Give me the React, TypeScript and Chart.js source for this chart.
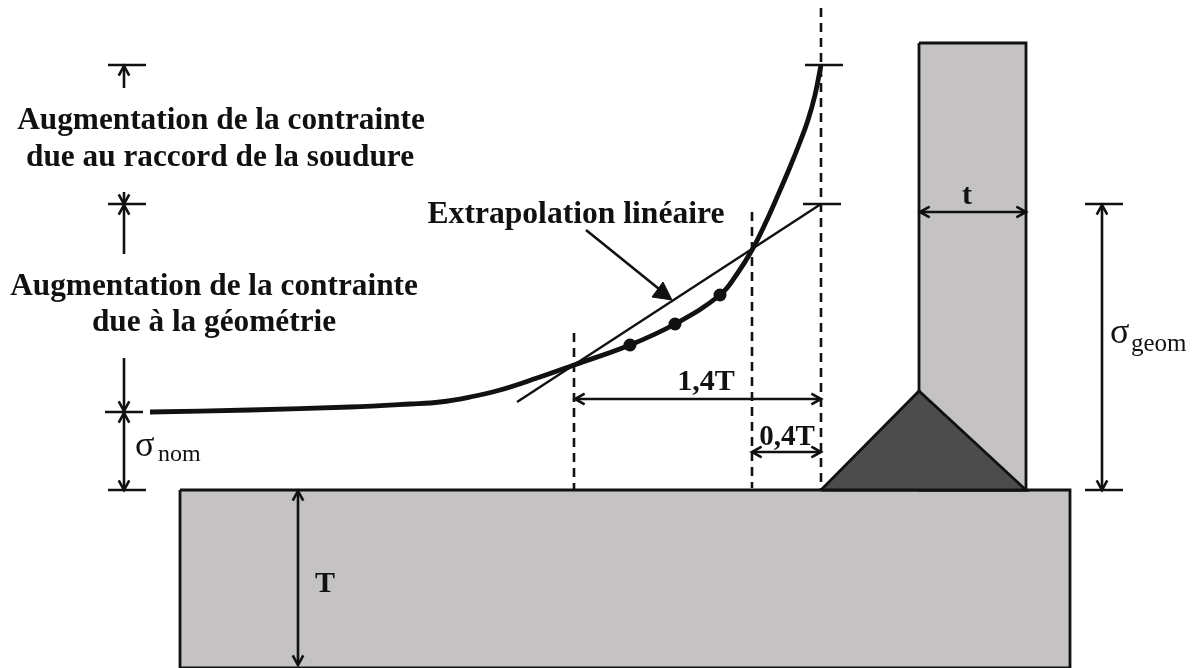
import React, { useEffect, useRef } from "react";
import { Chart, registerables } from "chart.js";

Chart.register(...registerables);

type P = { x: number; y: number };
type Pair = [number, number];

const W = 1197;
const H = 668;

// Stress curve and the three measurement points
const curveX = [150, 250, 350, 410, 440, 470, 500, 537, 574, 630, 675, 720, 737, 752, 765, 778, 790, 800, 808, 815, 821];
const curveY = [412, 410, 407, 404, 402, 397, 390, 378, 365, 345, 324, 295, 274, 250, 224, 195, 167, 142, 120, 95, 65];
const dotX = [630, 675, 720];
const dotY = [345, 324, 295];

// Extrapolation line
const extrapX = [517, 821];
const extrapY = [402, 204];

// Shapes
const plate: Pair[] = [[180, 490], [1070, 490], [1070, 668], [180, 668], [180, 490]];
const web: Pair[] = [[919, 43], [1026, 43], [1026, 490], [919, 490], [919, 43]];
const weld: Pair[] = [[821, 490], [919, 391], [1026, 490], [821, 490]];

// Dashed verticals: x, top, bottom
const dashes: [number, number, number][] = [
  [821, 8, 490],
  [752, 212, 488],
  [574, 333, 490],
];

// Level ticks: x1, x2, y
const ticks: [number, number, number][] = [
  [108, 146, 65],
  [108, 146, 204],
  [105, 143, 412],
  [108, 146, 490],
  [805, 843, 65],
  [803, 841, 204],
  [1085, 1123, 204],
  [1085, 1123, 490],
];

// Dimension arrows: x1, y1, x2, y2, head at start too
const arrows: [number, number, number, number, boolean][] = [
  [124, 88, 124, 66, false],
  [124, 192, 124, 204, false],
  [124, 254, 124, 205, false],
  [124, 358, 124, 411, false],
  [124, 413, 124, 490, true],
  [298, 491, 298, 665, true],
  [920, 212, 1026, 212, true],
  [1102, 205, 1102, 490, true],
  [575, 399, 821, 399, true],
  [752, 452, 821, 452, true],
];

// Leader arrow to the extrapolation line
const leaderX = [586, 664];
const leaderY = [230, 293];
const leaderHead: Pair[] = [[672, 300], [652, 297], [663, 282], [672, 300]];

// Texts
const labelText = [
  "Augmentation de la contrainte",
  "due au raccord de la soudure",
  "Augmentation de la contrainte",
  "due à la géométrie",
  "Extrapolation linéaire",
  "1,4T",
  "0,4T",
  "T",
  "t",
];
const labelX = [221, 220, 214, 214, 576, 706, 787, 325, 967];
const labelY = [121, 158, 287, 323, 215, 382, 438, 584, 196];
const labelSize = [31.3, 31.3, 31.3, 31.3, 31.6, 30, 29, 30, 30];

const sigmaText = ["σ", "σ"];
const sigmaX = [135, 1110];
const sigmaY = [447, 334];
const subText = ["nom", "geom"];
const subX = [158, 1131];
const subY = [455, 344];
const subSize = [24, 25];

const ink = "#111111";
const grey = "#c4c2c3";
const dark = "#4d4c4d";

function xy(xs: number[], ys: number[]): P[] {
  return xs.map((x, i) => ({ x, y: ys[i] }));
}
function pairs(list: Pair[]): P[] {
  return list.map(([x, y]) => ({ x, y }));
}
function head(tipX: number, tipY: number, fromX: number, fromY: number): P[] {
  const a = Math.atan2(fromY - tipY, fromX - tipX);
  const len = 11;
  const spread = 0.5;
  return [
    { x: tipX + len * Math.cos(a + spread), y: tipY + len * Math.sin(a + spread) },
    { x: tipX, y: tipY },
    { x: tipX + len * Math.cos(a - spread), y: tipY + len * Math.sin(a - spread) },
  ];
}

const base = { showLine: true, pointRadius: 0, pointHoverRadius: 0, tension: 0, fill: false };

function stroke(data: P[], width: number, order: number, extra: object = {}) {
  return { ...base, data, borderColor: ink, borderWidth: width, order, ...extra };
}

function buildDatasets() {
  const ds: any[] = [];
  ds.push(stroke(pairs(plate), 2.8, 30, { fill: "shape", backgroundColor: grey }));
  ds.push(stroke(pairs(web), 2.8, 29, { fill: "shape", backgroundColor: grey }));
  ds.push(stroke(pairs(weld), 2.8, 28, { fill: "shape", backgroundColor: dark }));
  dashes.forEach(([x, a, b]) =>
    ds.push(stroke([{ x, y: a }, { x, y: b }], 2.6, 20, { borderDash: [9, 6] }))
  );
  ticks.forEach(([a, b, y]) => ds.push(stroke([{ x: a, y }, { x: b, y }], 2.6, 15)));
  arrows.forEach(([x1, y1, x2, y2, both]) => {
    ds.push(stroke([{ x: x1, y: y1 }, { x: x2, y: y2 }], 2.6, 10));
    ds.push(stroke(head(x2, y2, x1, y1), 2.6, 10));
    if (both) ds.push(stroke(head(x1, y1, x2, y2), 2.6, 10));
  });
  ds.push(stroke(xy(extrapX, extrapY), 2.4, 8));
  ds.push(stroke(xy(leaderX, leaderY), 2.6, 8));
  ds.push(stroke(pairs(leaderHead), 1, 8, { fill: "shape", backgroundColor: ink }));
  ds.push(
    stroke(xy(curveX, curveY), 4.8, 5, {
      cubicInterpolationMode: "default",
      tension: 0.4,
      borderCapStyle: "butt",
    })
  );
  ds.push({
    data: xy(dotX, dotY),
    showLine: false,
    pointRadius: 6.5,
    pointHoverRadius: 6.5,
    pointBackgroundColor: ink,
    pointBorderWidth: 0,
    order: 1,
  });
  return ds;
}

const textPlugin = {
  id: "diagramText",
  afterDatasetsDraw(chart: any) {
    const { ctx, scales } = chart;
    const sx = scales.x;
    const sy = scales.y;
    ctx.save();
    ctx.fillStyle = ink;
    ctx.textBaseline = "middle";
    ctx.textAlign = "center";
    labelText.forEach((t, i) => {
      ctx.font = `bold ${labelSize[i]}px "Liberation Serif"`;
      ctx.fillText(t, sx.getPixelForValue(labelX[i]), sy.getPixelForValue(labelY[i]));
    });
    ctx.textAlign = "left";
    sigmaText.forEach((t, i) => {
      ctx.font = `36px "Liberation Serif"`;
      ctx.fillText(t, sx.getPixelForValue(sigmaX[i]), sy.getPixelForValue(sigmaY[i]));
      ctx.font = `${subSize[i]}px "Liberation Serif"`;
      ctx.fillText(subText[i], sx.getPixelForValue(subX[i]), sy.getPixelForValue(subY[i]));
    });
    ctx.restore();
  },
};

export default function App() {
  const ref = useRef<HTMLCanvasElement>(null);
  useEffect(() => {
    const chart = new Chart(ref.current!, {
      type: "scatter",
      data: { datasets: buildDatasets() },
      options: {
        responsive: false,
        animation: false,
        layout: { padding: 0, autoPadding: false },
        events: [],
        plugins: { legend: { display: false }, tooltip: { enabled: false } },
        scales: {
          x: { type: "linear", min: 0, max: W, display: false },
          y: { type: "linear", min: 0, max: H, reverse: true, display: false },
        },
      },
      plugins: [textPlugin],
    } as any);
    return () => chart.destroy();
  }, []);
  return (
    <div style={{ position: "fixed", left: 0, top: 0, width: W, height: H, background: "#fff" }}>
      <canvas ref={ref} width={W} height={H} style={{ display: "block", filter: "blur(0.4px)" }} />
    </div>
  );
}
